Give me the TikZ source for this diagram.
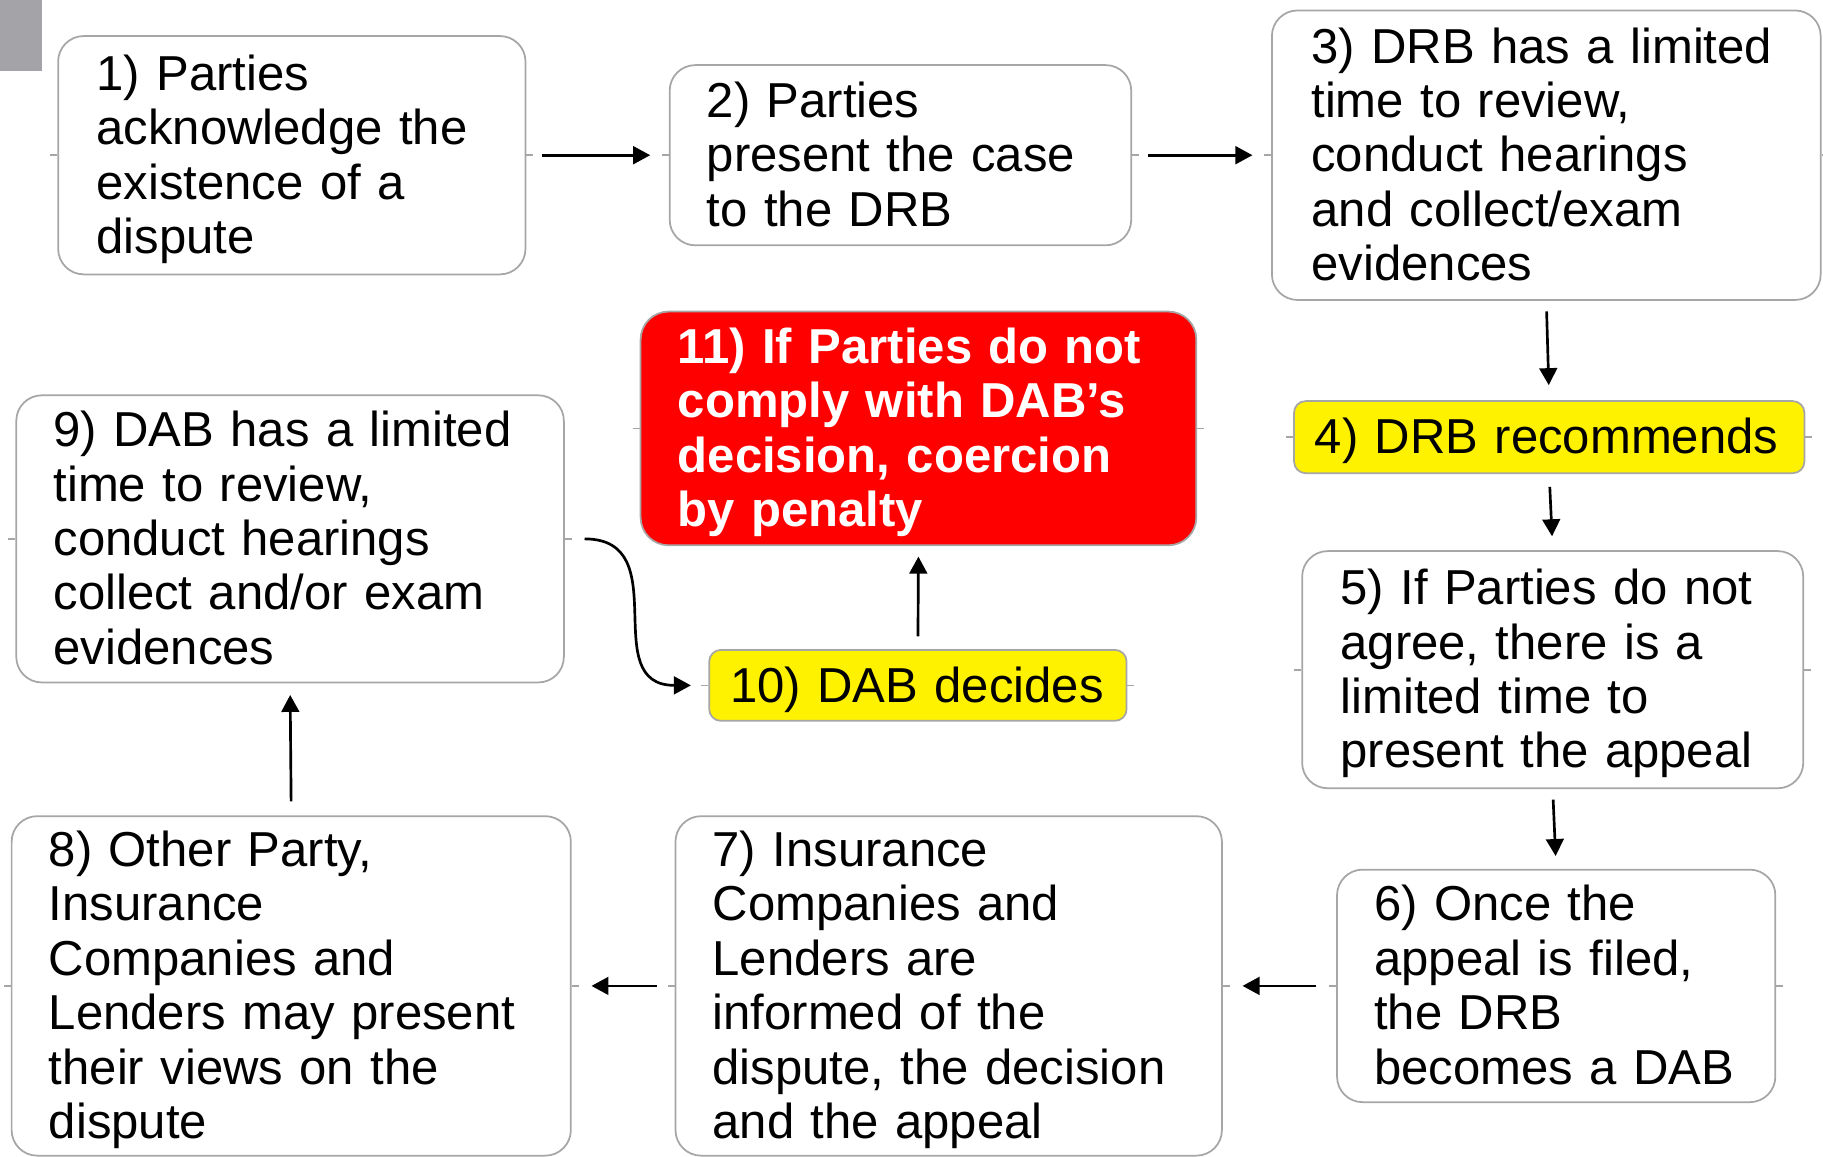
\documentclass[tikz,border=0pt]{standalone}
\usepackage{fontspec}
\setmainfont{Liberation Sans}
\usetikzlibrary{arrows.meta}
\newcommand\boxlines[1]{\raisebox{-2.5pt}[\height][\depth]{\begin{tabular}{@{}l@{}}#1\end{tabular}}}
\definecolor{boxline}{RGB}{166,166,166}
\definecolor{corner}{RGB}{163,163,168}
\begin{document}
\begin{tikzpicture}[x={(0.5pt,0)},y={(0,-0.5pt)},
  box/.style={draw=boxline, line width=0.75pt, rounded corners=11pt, fill=white,
    align=left, inner ysep=0pt, font=\fontsize{21.1}{23.4}\selectfont},
  yelbox/.style={box, fill=yellow, rounded corners=5pt},
  redbox/.style={box, fill=red, text=white, rounded corners=12pt,
    font=\fontsize{21.1}{23.4}\selectfont\bfseries},
  arr/.style={-{Triangle[length=7.3pt,width=7.6pt]}, line width=1.15pt, black},
  tick/.style={draw=boxline, line width=0.75pt}]
\useasboundingbox (0,0) rectangle (1568,995);
\fill[corner] (0,0) rectangle (36,61);

\node[box, minimum width=201pt, minimum height=102.5pt, text width=168pt, inner xsep=16.5pt] (n1) at (251,133.5)
  {\boxlines{1) Parties\\acknowledge the\\existence of a\\dispute}};
\node[box, minimum width=198.5pt, minimum height=77.5pt, text width=166.5pt, inner xsep=16pt] (n2) at (774.5,133.5)
  {\boxlines{2) Parties\\present the case\\to the DRB}};
\node[box, minimum width=236pt, minimum height=124.5pt, text width=202pt, inner xsep=17pt] (n3) at (1330,133.5)
  {\boxlines{3) DRB has a limited\\time to review,\\conduct hearings\\and collect/exam\\evidences}};
\node[yelbox, minimum width=219.5pt, minimum height=31pt, text width=201.5pt, inner xsep=9pt] (n4) at (1332.5,376)
  {\boxlines{4) DRB recommends}};
\node[box, minimum width=215.5pt, minimum height=102pt, text width=182.5pt, inner xsep=16.5pt] (n5) at (1335.5,576)
  {\boxlines{5) If Parties do not\\agree, there is a\\limited time to\\present the appeal}};
\node[box, minimum width=188.5pt, minimum height=100pt, text width=156.5pt, inner xsep=16pt] (n6) at (1338.5,848)
  {\boxlines{6) Once the\\appeal is filed,\\the DRB\\becomes a DAB}};
\node[box, minimum width=235pt, minimum height=146pt, text width=203pt, inner xsep=16pt] (n7) at (816,848)
  {\boxlines{7) Insurance\\Companies and\\Lenders are\\informed of the\\dispute, the decision\\and the appeal}};
\node[box, minimum width=240.5pt, minimum height=146pt, text width=208.5pt, inner xsep=16pt] (n8) at (250.5,848)
  {\boxlines{8) Other Party,\\Insurance\\Companies and\\Lenders may present\\their views on the\\dispute}};
\node[box, minimum width=235.5pt, minimum height=123.5pt, text width=203.5pt, inner xsep=16pt] (n9) at (249.5,463.5)
  {\boxlines{9) DAB has a limited\\time to review,\\conduct hearings\\collect and/or exam\\evidences}};
\node[yelbox, minimum width=179.5pt, minimum height=30.5pt, text width=161.5pt, inner xsep=9pt] (n10) at (789.5,589.5)
  {\boxlines{10) DAB decides}};
\node[redbox, minimum width=239pt, minimum height=100.5pt, text width=207pt, inner xsep=16pt] (n11) at (790,368.5)
  {\boxlines{11) If Parties do not\\comply with DAB’s\\decision, coercion\\by penalty}};

\foreach \n in {n1,n2,n3,n4,n5,n6,n7,n8,n9,n10,n11}{
  \draw[tick] (\n.west) -- ++(-6,0);
  \draw[tick] (\n.east) -- ++(6,0);
}

\draw[arr, shorten <=6.5pt, shorten >=8pt] (n1.east) -- (n2.west);
\draw[arr, shorten <=7pt, shorten >=8pt] (n2.east) -- (n3.west);
\draw[arr, shorten <=4.5pt, shorten >=6.5pt] (n3.south) -- (n4.north);
\draw[arr, shorten <=5.5pt, shorten >=6pt] (n4.south) -- (n5.north);
\draw[arr, shorten <=4.5pt, shorten >=5.5pt] (n5.south) -- (n6.north);
\draw[arr, shorten <=8.5pt, shorten >=8.5pt] (n6.west) -- (n7.east);
\draw[arr, shorten <=7.5pt, shorten >=8.5pt] (n7.west) -- (n8.east);
\draw[arr, shorten <=6pt, shorten >=5pt] (n8.north) -- (n9.south);
\draw[arr, shorten <=5.5pt, shorten >=4.5pt] (n10.north) -- (n11.south);
\draw[arr, shorten <=8.5pt, shorten >=7.5pt] (n9.east) to[out=0,in=180,looseness=1.4] (n10.west);
\end{tikzpicture}
\end{document}
